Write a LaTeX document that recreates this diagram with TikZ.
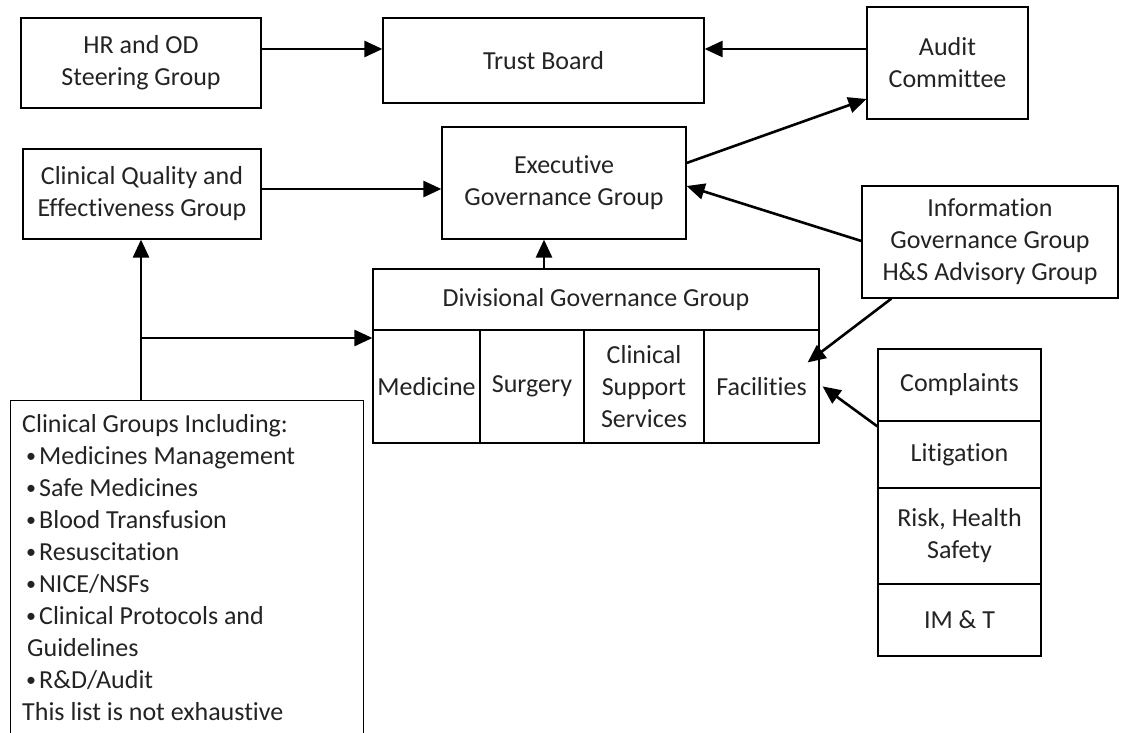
\documentclass[tikz,border=0pt]{standalone}
\usepackage{fontspec}
\setmainfont{Carlito}[Ligatures=NoCommon]
\usetikzlibrary{arrows.meta,calc}
\definecolor{txt}{RGB}{35,35,35}
\newcommand{\smbul}{\raisebox{1.5pt}{\fontsize{20}{20}\selectfont\textbullet}\hspace{3pt}}
\begin{document}
\begin{tikzpicture}[x=1pt,y=-1pt,
  box/.style={draw, line width=1.2pt, inner sep=0pt, align=center, text=txt, font=\fontsize{26}{32}\selectfont},
  arr/.style={line width=2.6pt, -{Triangle[length=18pt,width=16pt]}}]
\useasboundingbox (0,0) rectangle (1122,733);
\clip (0,0) rectangle (1122,733);
% top row
\node[box, minimum width=240pt, minimum height=90pt] (HR) at (141,63) {HR and OD\\Steering Group};
\node[box, minimum width=321pt, minimum height=85pt] (Trust) at (543.5,60.5) {Trust Board};
\node[box, minimum width=161pt, minimum height=112pt] (Audit) at (947.5,63) {Audit\\Committee};
% second row
\node[box, minimum width=238pt, minimum height=90pt] (CQ) at (142,194) {Clinical Quality and\\Effectiveness Group};
\node[box, minimum width=244pt, minimum height=112pt] (Exec) at (564,183) {Executive\\Governance Group};
\node[box, minimum width=256pt, minimum height=112pt] (Info) at (990,242) {Information\\Governance Group\\H\&S Advisory Group};
% divisional block
\node[box, minimum width=446pt, minimum height=61pt] (DivH) at (596,299.5) {Divisional Governance Group};
\node[box, minimum width=107pt, minimum height=113pt] (Med) at (426.5,386.5) {Medicine};
\node[box, minimum width=104pt, minimum height=113pt] (Surg) at (532,386.5) {Surgery};
\node[box, minimum width=120pt, minimum height=113pt] (CSS) at (644,386.5) {Clinical\\Support\\Services};
\node[box, minimum width=115pt, minimum height=113pt] (Fac) at (761.5,386.5) {Facilities};
% right stack
\node[box, minimum width=163pt, minimum height=72pt] (Comp) at (959.5,385) {Complaints};
\node[box, minimum width=163pt, minimum height=67pt] (Lit) at (959.5,454.5) {Litigation};
\node[box, minimum width=163pt, minimum height=96pt] (Risk) at (959.5,536) {Risk, Health\\Safety};
\node[box, minimum width=163pt, minimum height=72pt] (IMT) at (959.5,620) {IM \& T};
% clinical groups
\node[box, anchor=north west, minimum width=353pt, minimum height=350pt] (CG) at (10,400) {};
\node[anchor=north west, align=left, inner sep=0pt, text=txt, font=\fontsize{26}{32}\selectfont] (CGtext) at ($(CG.north west)+(12,14)$)
 {Clinical Groups Including:\\
  \hspace*{4pt}\smbul Medicines Management\\
  \hspace*{4pt}\smbul Safe Medicines\\
  \hspace*{4pt}\smbul Blood Transfusion\\
  \hspace*{4pt}\smbul Resuscitation\\
  \hspace*{4pt}\smbul NICE/NSFs\\
  \hspace*{4pt}\smbul Clinical Protocols and\\
  \hspace*{5pt}Guidelines\\
  \hspace*{4pt}\smbul R\&D/Audit\\
  This list is not exhaustive};
% connectors
\draw[arr] (HR.east |- 0,49) -- (Trust.west |- 0,49);
\draw[arr] (Audit.west |- 0,49) -- (Trust.east |- 0,49);
\draw[arr] (CQ.east |- 0,189) -- (Exec.west |- 0,189);
\draw[arr] (Exec.east |- 0,163) -- (Audit.west |- 0,99);
\draw[arr] (Info.west |- 0,241) -- (Exec.east |- 0,186);
\draw[arr] (DivH.north -| 544,0) -- (Exec.south -| 544,0);
\draw[arr] (CG.north -| 141,0) -- (CQ.south -| 141,0);
\draw[arr] (141,338) coordinate (br) -- (Med.west |- br);
\draw[arr] ($(Info.south west)+(30,0)$) -- ($(Fac.north east)+(-12,33)$);
\draw[arr] ($(Lit.north west)+(0,6)$) -- ($(Fac.north east)+(3,57)$);
\end{tikzpicture}
\end{document}
